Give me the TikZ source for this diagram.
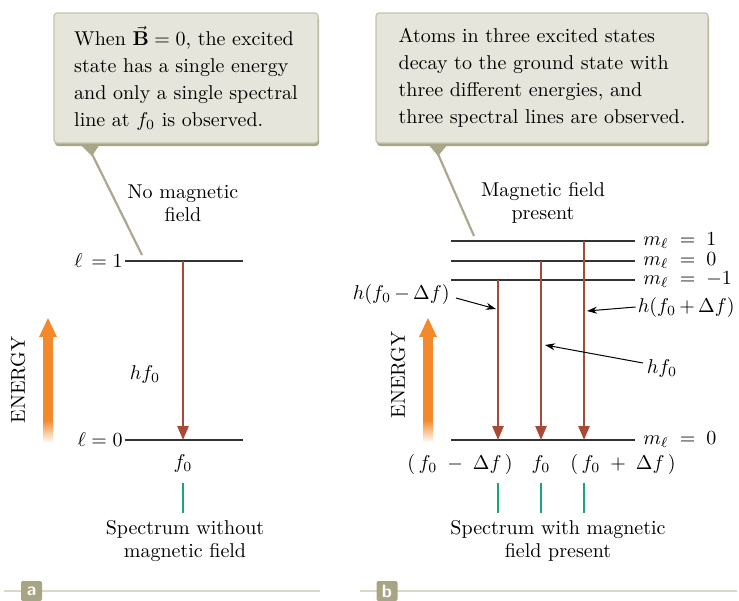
\documentclass[tikz,border=0pt]{standalone}
\usepackage{amsmath, amssymb}
\usepackage{xcolor}
\usepackage{tikz}
\usetikzlibrary{arrows.meta, positioning}
\definecolor{notefill}{HTML}{E6E5DB}
\definecolor{noteedge}{HTML}{C4C2AC}
\definecolor{noteshade}{HTML}{A9A687}
\definecolor{leadgray}{HTML}{ABA88E}
\definecolor{levelgray}{HTML}{333333}
\definecolor{transred}{HTML}{A84A36}
\definecolor{energyorange}{HTML}{F3892A}
\definecolor{specgreen}{HTML}{17A57B}
\definecolor{tagolive}{HTML}{A8A584}
\definecolor{tagline}{HTML}{D9D7C5}
\tikzset{
    notebox/.style={
        rectangle,
        rounded corners=1.5pt,
        draw=noteedge,
        fill=notefill,
        line width=0.6pt,
        align=left,
        inner xsep=7pt,
        minimum height=65pt,
        font=\fontsize{10}{13.5}\selectfont
    },
    leader/.style={
        draw=leadgray,
        line width=1.1pt
    },
    level/.style={
        draw=levelgray,
        line width=0.6pt
    },
    transition/.style={
        -{Triangle[length=7pt, width=5.5pt]},
        draw=transred,
        fill=transred,
        line width=1.3pt
    },
    pointer/.style={
        -{Stealth[length=5pt, width=3.5pt]},
        draw=black,
        line width=0.5pt
    },
    speclines/.style={
        draw=specgreen,
        line width=1.3pt
    },
    caption/.style={
        align=center,
        font=\fontsize{10}{11.5}\selectfont
    },
    levellabel/.style={
        font=\fontsize{10}{12}\selectfont,
        inner sep=1pt
    },
    tag/.style={
        rectangle,
        rounded corners=1pt,
        fill=tagolive,
        text=white,
        font=\sffamily\bfseries\fontsize{9}{9}\selectfont,
        minimum width=10.5pt,
        minimum height=10pt,
        inner sep=0pt
    }
}

\begin{document}
\begin{tikzpicture}[x=0.5pt, y=-0.5pt]
    \useasboundingbox (0,0) rectangle (739,600);

    % ---- panel a ----
    \fill[noteshade, rounded corners=1.5pt] (55,16) rectangle (319,146);
    \node[notebox, minimum width=132pt] (notea) at (186,78)
        {When $\vec{\mathbf{B}} = 0$, the excited\\state has a single energy\\and only a single spectral\\line at $f_0$ is observed.};
    \fill[noteshade] (80,144) -- (100,144) -- (92,156) -- cycle;
    \coordinate (tipa) at (92,154);
    \coordinate (enda) at (142,255);
    \draw[leader] (tipa) -- (enda);

    \node[caption] (nofield) at (183,203) {No magnetic\\field};

    \coordinate (upa-l) at (125,261);
    \coordinate (upa-r) at (243,261);
    \coordinate (lowa-l) at (125,440);
    \coordinate (lowa-r) at (243,440);
    \draw[level] (upa-l) -- (upa-r);
    \draw[level] (lowa-l) -- (lowa-r);
    \node[levellabel, left=0pt of upa-l] (lone) {$\ell\,=1$};
    \node[levellabel, left=0pt of lowa-l] (lzero) {$\ell = 0$};

    \coordinate (trana-top) at (183,261);
    \coordinate (trana-bot) at (183,440);
    \draw[transition] (trana-top) -- (trana-bot);
    \node[levellabel] (hfa) at (145,374) {$hf_0$};
    \node[levellabel] (fa) at (183,463) {$f_0$};

    \coordinate (speca-top) at (183,483);
    \coordinate (speca-bot) at (183,513);
    \draw[speclines] (speca-top) -- (speca-bot);
    \node[caption] (speca) at (185,541) {Spectrum without\\magnetic field};

    % energy arrow a
    \fill[energyorange] (43,336) rectangle (53,420);
    \shade[top color=energyorange, bottom color=energyorange!8] (43,420) rectangle (53,441);
    \fill[energyorange] (39,337) -- (48,318) -- (57,337) -- cycle;
    \node[rotate=90, font=\fontsize{10}{10}\selectfont] (energya) at (18,380) {ENERGY};

    \draw[tagline, line width=1.2pt] (4,591) -- (320,591);
    \node[tag] (taga) at (31.5,591) {a};

    % ---- panel b ----
    \fill[noteshade, rounded corners=1.5pt] (377,16) rectangle (709,146);
    \node[notebox, minimum width=166pt] (noteb) at (542,78)
        {Atoms in three excited states\\decay to the ground state with\\three different energies, and\\three spectral lines are observed.};
    \fill[noteshade] (428,144) -- (448,144) -- (438,156) -- cycle;
    \coordinate (tipb) at (438,154);
    \coordinate (endb) at (474,236);
    \draw[leader] (tipb) -- (endb);

    \node[caption] (field) at (543,203) {Magnetic field\\present};

    \foreach \name/\y in {plus/241, zero/261, minus/280, ground/440} {
        \coordinate (\name-l) at (451,\y);
        \coordinate (\name-r) at (635,\y);
        \draw[level] (\name-l) -- (\name-r);
    }
    \node[levellabel, right=3pt of plus-r] (mplus) {$m_\ell\;=\;1$};
    \node[levellabel, right=3pt of zero-r] (mzero) {$m_\ell\;=\;0$};
    \node[levellabel, right=3pt of minus-r] (mminus) {$m_\ell\;=\;-1$};
    \node[levellabel, right=3pt of ground-r] (mground) {$m_\ell\;=\;0$};

    \foreach \name/\x/\y in {lo/498/280, mid/541/261, hi/584/241} {
        \coordinate (\name-top) at (\x,\y);
        \coordinate (\name-bot) at (\x,440);
        \draw[transition] (\name-top) -- (\name-bot);
        \coordinate (\name-s1) at (\x,483);
        \coordinate (\name-s2) at (\x,513);
        \draw[speclines] (\name-s1) -- (\name-s2);
    }

    \node[levellabel, anchor=east] (hlo) at (452,294) {$h(f_0\,{-}\,\Delta f)$};
    \node[levellabel, anchor=east] (hhi) at (737,307) {$h(f_0\,{+}\,\Delta f)$};
    \node[levellabel] (hmid) at (662,368) {$hf_0$};
    \coordinate (lo-p) at (496,309);
    \coordinate (hi-p) at (587,311);
    \coordinate (mid-p) at (545,345);
    \coordinate (hlo-s) at (456,298);
    \coordinate (hmid-s) at (643,363);
    \draw[pointer] (hlo-s) -- (lo-p);
    \draw[pointer] (hhi.west) -- (hi-p);
    \draw[pointer] (hmid-s) -- (mid-p);

    \node[levellabel] (flo) at (460,464) {$(\,f_0\;-\;\Delta f\,)$};
    \node[levellabel] (fmid) at (541,464) {$f_0$};
    \node[levellabel] (fhi) at (623,464) {$(\,f_0\;+\;\Delta f\,)$};

    \node[caption] (specb) at (558,541) {Spectrum with magnetic\\field present};

    % energy arrow b
    \fill[energyorange] (423,336) rectangle (433,420);
    \shade[top color=energyorange, bottom color=energyorange!8] (423,420) rectangle (433,441);
    \fill[energyorange] (419,337) -- (428,318) -- (437,337) -- cycle;
    \node[rotate=90, font=\fontsize{10}{10}\selectfont] (energyb) at (398,375) {ENERGY};

    \draw[tagline, line width=1.2pt] (360,591) -- (737,591);
    \node[tag] (tagb) at (387,591) {b};
\end{tikzpicture}
\end{document}
